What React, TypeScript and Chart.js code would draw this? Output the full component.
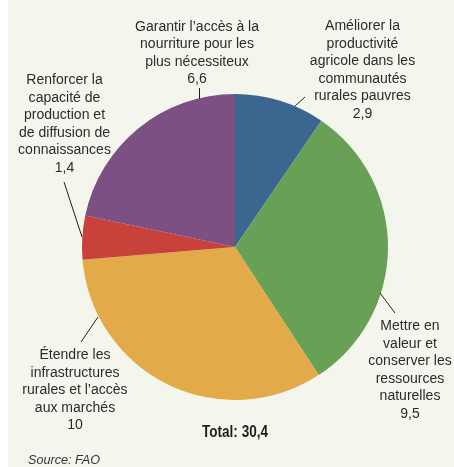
import React, { useEffect, useRef } from "react";
import { Chart, registerables } from "chart.js";

Chart.register(...registerables);

const categories = [
  ["Améliorer la", "productivité", "agricole dans les", "communautés", "rurales pauvres"],
  ["Mettre en", "valeur et", "conserver les", "ressources", "naturelles"],
  ["Étendre les", "infrastructures", "rurales et l’accès", "aux marchés"],
  ["Renforcer la", "capacité de", "production et", "de diffusion de", "connaissances"],
  ["Garantir l’accès à la", "nourriture pour les", "plus nécessiteux"],
];
const values = [2.9, 9.5, 10, 1.4, 6.6];
const valueLabels = ["2,9", "9,5", "10", "1,4", "6,6"];
const colors = ["#3b6690", "#68a155", "#e2aa48", "#c8413a", "#7c5083"];
const totalLabel = "Total: 30,4";
const sourceLabel = "Source: FAO";

const FONT = "'Liberation Sans', Arial, sans-serif";

// label placement relative to pie centre: [centreX, firstLineMiddleY], leader [x1,y1,x2,y2]
const labelPlacement = [
  { x: 127.5, y: -221, leader: [60, -141, 70, -150] },
  { x: 175, y: 79, leader: [145, 46, 160, 66] },
  { x: -160, y: 108, leader: [-154, 95, -137, 70] },
  { x: -170.5, y: -167, leader: [-171, -65, -153, -10] },
  { x: -38, y: -220.5, leader: [-35.5, -159, -35.5, -148] },
];

function drawCondensed(ctx: any, text: string, x: number, y: number, sx: number) {
  ctx.save();
  ctx.translate(x, y);
  ctx.scale(sx, 1);
  ctx.fillText(text, 0, 0);
  ctx.restore();
}

const annotations = {
  id: "annotations",
  afterDraw(chart: any) {
    const ctx = chart.ctx;
    const arc = chart.getDatasetMeta(0).data[0];
    const cx = arc.x;
    const cy = arc.y;
    ctx.save();
    ctx.fillStyle = "#2b2b2b";
    ctx.strokeStyle = "#1e1e1e";
    ctx.lineWidth = 1;
    ctx.textAlign = "center";
    ctx.textBaseline = "middle";
    ctx.font = "15.5px " + FONT;
    const sx = 124 / ctx.measureText(categories[4][0]).width;
    const lh = 17.5;
    categories.forEach((lines, i) => {
      const p = labelPlacement[i];
      const all = [...lines, valueLabels[i]];
      all.forEach((t, j) => {
        drawCondensed(ctx, t, cx + p.x, cy + p.y + j * lh, sx);
      });
      const l = p.leader;
      ctx.beginPath();
      ctx.moveTo(cx + l[0], cy + l[1]);
      ctx.lineTo(cx + l[2], cy + l[3]);
      ctx.stroke();
    });
    ctx.font = "bold 16px " + FONT;
    ctx.fillStyle = "#1e1e1e";
    const sxb = 66 / ctx.measureText(totalLabel).width;
    drawCondensed(ctx, totalLabel, cx, cy + 186, sxb);
    ctx.font = "italic 12.5px " + FONT;
    ctx.fillStyle = "#333333";
    ctx.textAlign = "left";
    const sxs = 72 / ctx.measureText(sourceLabel).width;
    drawCondensed(ctx, sourceLabel, 20, cy + 214, sxs);
    ctx.restore();
  },
};

export default function App() {
  const ref = useRef<HTMLCanvasElement>(null);
  useEffect(() => {
    if (!ref.current) return;
    const chart = new Chart(ref.current, {
      type: "pie",
      data: {
        labels: categories.map((c) => c.join(" ")),
        datasets: [
          {
            data: values,
            backgroundColor: colors,
            borderWidth: 0,
          },
        ],
      },
      options: {
        responsive: false,
        maintainAspectRatio: false,
        animation: false,
        layout: { padding: { left: 74, right: 66, top: 94, bottom: 67 } },
        plugins: {
          legend: { display: false },
          tooltip: { enabled: false },
        },
      },
      plugins: [annotations],
    });
    return () => chart.destroy();
  }, []);
  return (
    <div
      style={{
        position: "absolute",
        left: 8,
        top: 0,
        width: 446,
        height: 467,
        background: "#f4f6ee",
      }}
    >
      <canvas ref={ref} width={446} height={467} style={{ display: "block" }} />
    </div>
  );
}
